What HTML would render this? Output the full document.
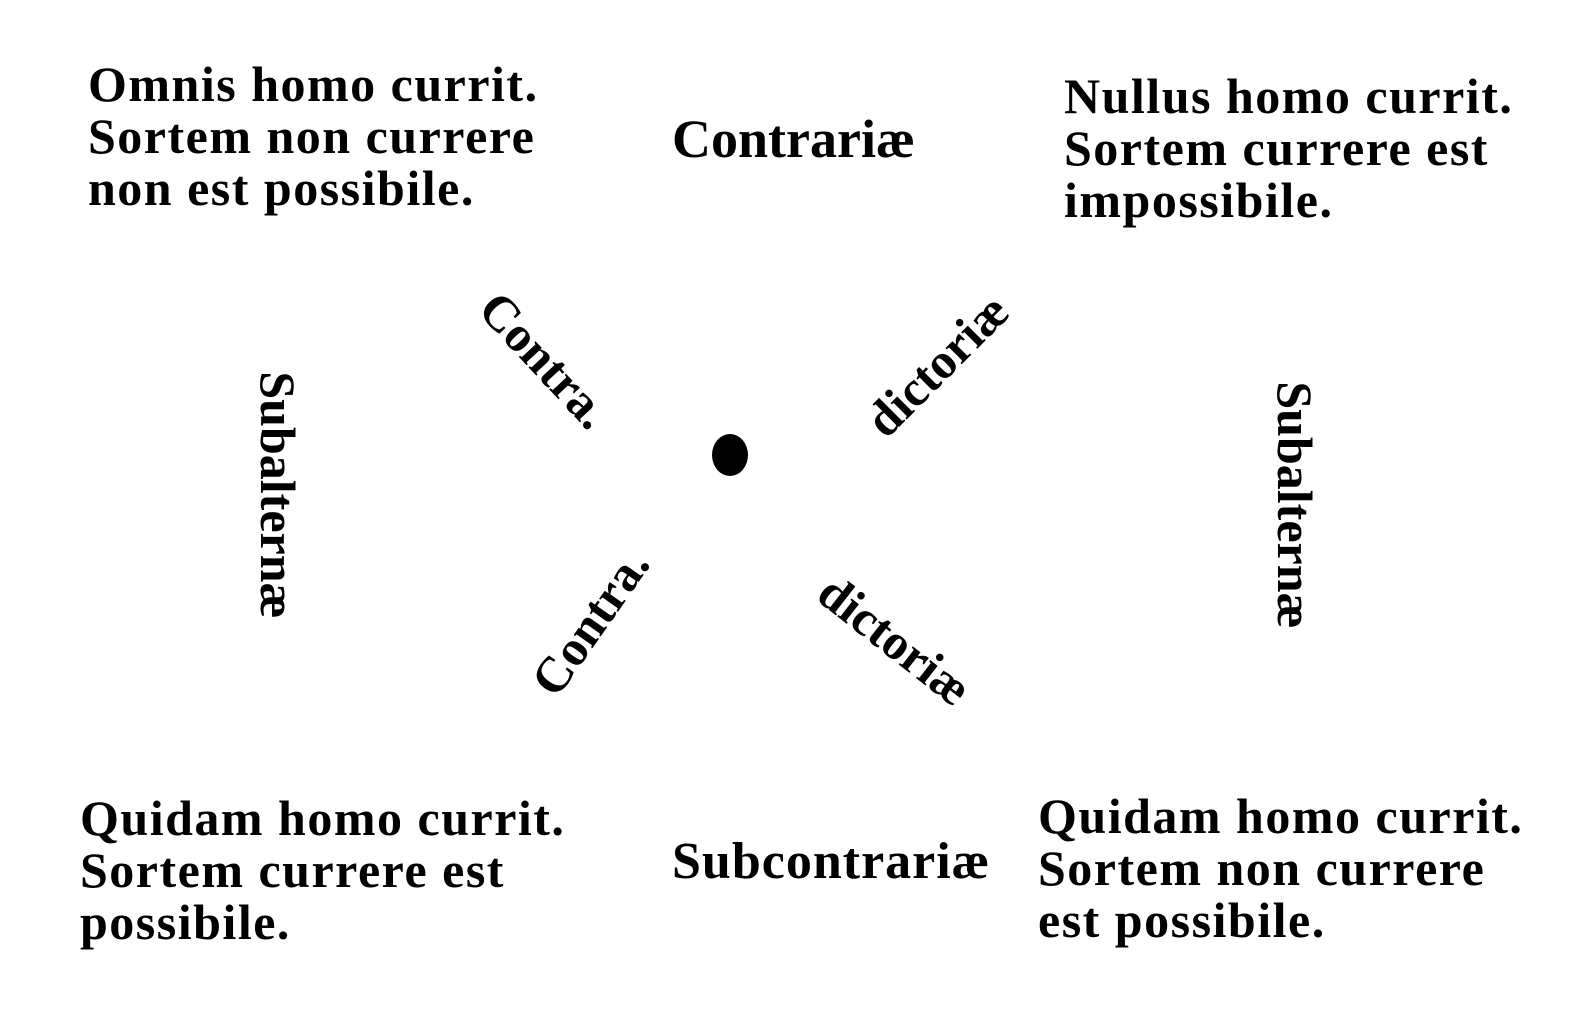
<!DOCTYPE html>
<html><head><meta charset="utf-8"><style>
html,body{margin:0;padding:0;background:#fff;}
body{width:1586px;height:1014px;position:relative;overflow:hidden;font-family:"Liberation Serif",serif;font-weight:bold;color:#000;}
.b{position:absolute;font-size:50px;line-height:52px;white-space:nowrap;letter-spacing:1.5px;}
.r{position:absolute;font-size:50px;white-space:nowrap;transform-origin:center center;}
.dot{position:absolute;left:712px;top:434px;width:36px;height:42px;border-radius:50%;background:#000;}
</style></head><body>
<div class="b" style="left:88px;top:58px;">Omnis homo currit.<br>Sortem non currere<br>non est possibile.</div>
<div class="b" style="left:1064px;top:70px;">Nullus homo currit.<br>Sortem currere est<br>impossibile.</div>
<div class="b" style="left:80px;top:792px;">Quidam homo currit.<br>Sortem currere est<br>possibile.</div>
<div class="b" style="left:1038px;top:790px;">Quidam homo currit.<br>Sortem non currere<br>est possibile.</div>
<div class="r" style="left:672px;top:108px;font-size:54px;">Contrariæ</div>
<div class="r" style="left:672px;top:832px;font-size:52px;letter-spacing:1px;">Subcontrariæ</div>
<div class="r" style="left:278px;top:495px;transform:translate(-50%,-50%) rotate(90deg);">Subalternæ</div>
<div class="r" style="left:1295px;top:505px;transform:translate(-50%,-50%) rotate(90deg);">Subalternæ</div>
<div class="r" style="left:545px;top:360px;transform:translate(-50%,-50%) rotate(47deg);">Contra.</div>
<div class="r" style="left:937px;top:365px;transform:translate(-50%,-50%) rotate(-45deg);">dictoriæ</div>
<div class="r" style="left:590px;top:622px;transform:translate(-50%,-50%) rotate(-55deg);">Contra.</div>
<div class="r" style="left:895px;top:640px;transform:translate(-50%,-50%) rotate(38deg);">dictoriæ</div>
<div class="dot"></div>
</body></html>
